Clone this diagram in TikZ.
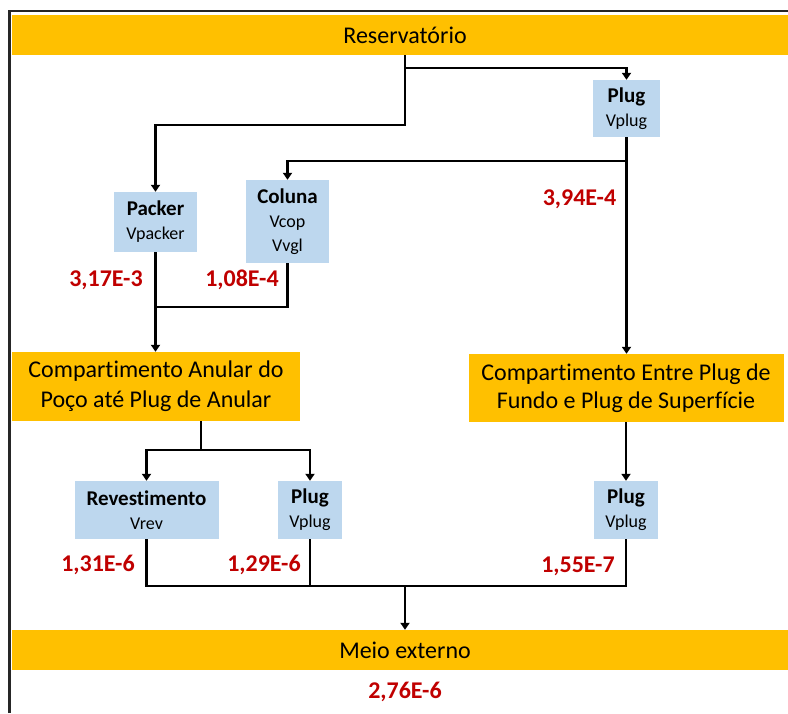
\documentclass[tikz,border=0pt]{standalone}
\usepackage{fontspec}
\setmainfont{Carlito}[Ligatures=NoCommon]
\usetikzlibrary{arrows.meta,calc}
\definecolor{barorange}{HTML}{FFC000}
\definecolor{boxblue}{HTML}{BDD7EE}
\definecolor{valred}{HTML}{C00000}
\newcommand{\elemtext}[2]{{\fontsize{21}{24}\selectfont\bfseries #1}\\#2}
\begin{document}
\begin{tikzpicture}[x=1pt,y=-1pt,
  bar/.style={fill=barorange, inner sep=0pt, minimum height=40pt, minimum width=786pt,
    font=\fontsize{24}{29}\selectfont},
  comp/.style={fill=barorange, inner sep=0pt, align=center},
  elem/.style={fill=boxblue, inner sep=0pt, align=center,
    font=\fontsize{18}{24}\selectfont},
  val/.style={text=valred, inner sep=0pt, font=\fontsize{24}{24}\selectfont\bfseries},
  link/.style={line width=2.3pt, line join=miter},
  arr/.style={link, -{Triangle[width=9pt,length=7pt]}}
]
\useasboundingbox (0,0) rectangle (788,713);
\clip (0,0) rectangle (788,713);
\fill[white] (0,0) rectangle (788,713);

% outer frame (top and left edges)
\draw[line width=2.5pt, black!85] (9.5,713) -- (9.5,11) -- (788,11);

% full-width bars
\node[bar] (res) at (405,35) {Reservatório};
\node[bar] (meio) at (405,650) {Meio externo};

% compartments
\node[comp, minimum width=288pt, minimum height=69pt,
  font=\fontsize{24}{30}\selectfont] (anular) at (156,386.5)
  {Compartimento Anular do\\Poço até Plug de Anular};
\node[comp, minimum width=315pt, minimum height=68pt,
  font=\fontsize{24}{28}\selectfont] (entre) at (626,388)
  {Compartimento Entre Plug de\\Fundo e Plug de Superfície};

% barrier elements
\node[elem, minimum width=67pt, minimum height=57pt] (plugA) at (626.5,108.5) {\elemtext{Plug}{Vplug}};
\node[elem, minimum width=83pt, minimum height=60pt] (packer) at (155.5,222) {\elemtext{Packer}{Vpacker}};
\node[elem, minimum width=83pt, minimum height=83pt] (col) at (287.5,221.5) {\elemtext{Coluna}{Vcop\\Vvgl}};
\node[elem, minimum width=144pt, minimum height=58pt] (rev) at (146.5,510) {\elemtext{Revestimento}{Vrev}};
\node[elem, minimum width=64pt, minimum height=58pt] (plugB) at (310,510) {\elemtext{Plug}{Vplug}};
\node[elem, minimum width=64pt, minimum height=58pt] (plugC) at (626,510) {\elemtext{Plug}{Vplug}};

% junction points
\coordinate (j1) at (155.5,307);
\coordinate (j2) at (201,450);
\coordinate (j3) at (405,586);

% connectors
\draw[arr] (res.south) -- ++(0,70) -| (packer.north);
\draw[arr] ($(res.south)+(0,13)$) -| (plugA.north);
\draw[arr] (plugA.south) -- ++(0,23.5) -| (col.north);
\draw[arr] (plugA.south) -- (plugA.south |- entre.north);
\draw[link] (col.south) |- (j1);
\draw[arr] (packer.south) -- (packer.south |- anular.north);
\draw[link] (j2 |- anular.south) -- (j2);
\draw[arr] (j2) -| (rev.north);
\draw[arr] (j2) -| (plugB.north);
\draw[arr] (entre.south) -- (plugC.north);
\draw[link] (rev.south) |- (j3) -| (plugC.south);
\draw[link] (plugB.south) -- (plugB.south |- j3);
\draw[arr] (j3) -- (meio.north);

% values
\node[val] (v1) at (106,280) {3,17E-3};
\node[val] (v2) at (242,280) {1,08E-4};
\node[val] (v3) at (579.5,199) {3,94E-4};
\node[val] (v4) at (98,565) {1,31E-6};
\node[val] (v5) at (264,565) {1,29E-6};
\node[val] (v6) at (578,566) {1,55E-7};
\node[val] (v7) at (405,692) {2,76E-6};
\end{tikzpicture}
\end{document}
